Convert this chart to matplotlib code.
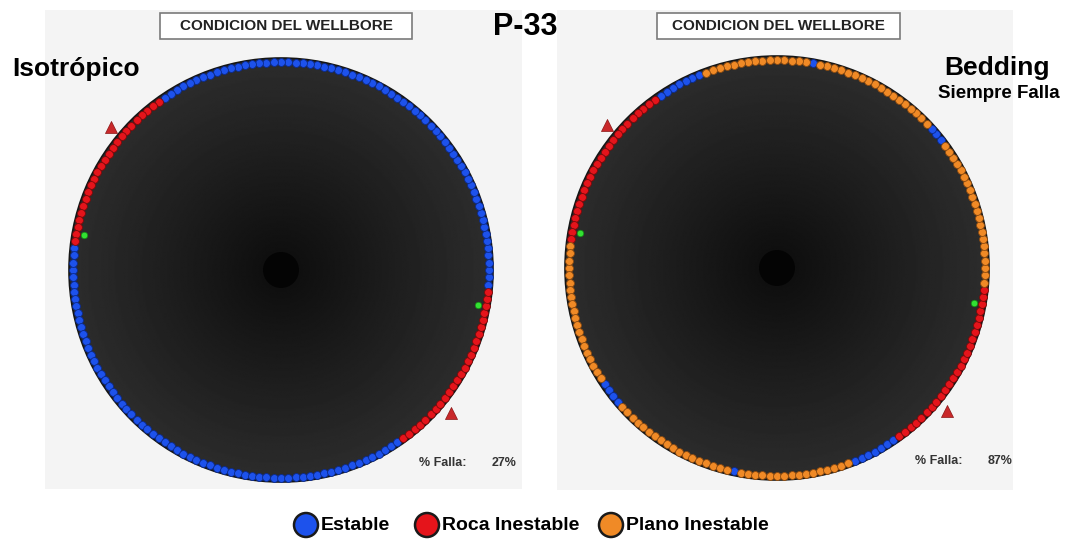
import numpy as np
import matplotlib.pyplot as plt
from matplotlib.patches import Circle, Rectangle

plt.rcParams['font.family'] = ['Liberation Sans', 'DejaVu Sans']

# one dot every 2 degrees around the wellbore wall
dot_angles = np.arange(-180, 180, 2)

# arcs (deg, counterclockwise from east) where the rock fails
iso_roca = [(-54, -4), (126, 174)]
bed_roca = [(-54, -4), (126, 174)]
# arcs that stay stable in the bedding case, the rest fails on the plane
bed_estable = [(-146, -138), (-102, -100), (-68, -54), (38, 44), (80, 82), (112, 126)]

# breakout triangles and green markers
breakout_angles = [140, -40]
marker_angles = [170, -10]

legend_labels = ['Estable', 'Roca Inestable', 'Plano Inestable']
colors = ['#1d52ec', '#e5141b', '#f08a26']
edges = ['#0b2a8a', '#7a0a0a', '#8a4a10']


def get_states(default, arcs_by_state):
    states = np.full(len(dot_angles), default)
    for state, arcs in arcs_by_state.items():
        for a, b in arcs:
            states[(dot_angles >= a) & (dot_angles < b)] = state
    return states


def draw_well(ax, cx, cy, states, R=208):
    # dark disc with radial shading
    n = 300
    g = np.linspace(-1, 1, n)
    xx, yy = np.meshgrid(g, g)
    d = np.clip(np.sqrt(xx**2 + yy**2), 0, 1)
    shade = 0.05 + 0.125 * d
    Rd = R + 4
    disc = Circle((cx, cy), Rd, transform=ax.transData)
    im = ax.imshow(shade, cmap='gray', vmin=0, vmax=1, interpolation='bilinear',
                   extent=(cx - Rd, cx + Rd, cy + Rd, cy - Rd), zorder=2)
    im.set_clip_path(disc)
    ax.add_patch(Circle((cx, cy), Rd, facecolor='none', edgecolor='#151515', lw=1.2, zorder=3))
    ax.add_patch(Circle((cx, cy), 18, facecolor='#040404', edgecolor='none', zorder=3))

    t = np.radians(dot_angles)
    px = cx + R * np.cos(t)
    py = cy - R * np.sin(t)
    for s in range(3):
        m = states == s
        ax.scatter(px[m], py[m], s=32, c=colors[s], edgecolors=edges[s], linewidths=0.6, zorder=4)

    tb = np.radians(breakout_angles)
    ax.scatter(cx + (R + 14) * np.cos(tb), cy - (R + 14) * np.sin(tb), marker='^', s=75,
               c='#c9282a', edgecolors='#8a1515', linewidths=0.5, zorder=5)
    tg = np.radians(marker_angles)
    ax.scatter(cx + (R - 8) * np.cos(tg), cy - (R - 8) * np.sin(tg), s=22,
               c='#33e033', edgecolors='#108a10', linewidths=0.5, zorder=5)

    falla = round(100 * np.sum(states != 0) / len(states))
    ax.text(cx + 138, cy + 193, '% Falla:', fontsize=9, fontweight='bold', color='#333333', va='center', zorder=5)
    ax.text(cx + 236, cy + 193, '%d%%' % falla, fontsize=9, fontweight='bold', color='#333333',
            va='center', ha='right', zorder=5)


iso_states = get_states(0, {1: iso_roca})
bed_states = get_states(2, {1: bed_roca, 0: bed_estable})

fig = plt.figure(figsize=(10.74, 5.41), dpi=100)
ax = fig.add_axes([0, 0, 1, 1])

# panel backgrounds
ax.add_patch(Rectangle((45, 10), 477, 479, facecolor='#f4f4f4', edgecolor='none', zorder=0))
ax.add_patch(Rectangle((557, 10), 456, 480, facecolor='#f4f4f4', edgecolor='none', zorder=0))

draw_well(ax, 281, 270, iso_states)
draw_well(ax, 777, 268, bed_states)

# title boxes
for bx, bw in [(160, 252), (657, 243)]:
    ax.add_patch(Rectangle((bx, 13), bw, 26, facecolor='white', edgecolor='#7a7a7a', lw=1.2, zorder=1))
    ax.text(bx + bw / 2, 26.5, 'CONDICION DEL WELLBORE', fontsize=11, fontweight='bold',
            ha='center', va='center', color='#222222')

ax.text(525, 27, 'P-33', fontsize=22, fontweight='bold', ha='center', va='center')
ax.text(12, 76, 'Isotrópico', fontsize=19, fontweight='bold', ha='left', va='baseline')
ax.text(997, 75, 'Bedding', fontsize=19, fontweight='bold', ha='center', va='baseline')
ax.text(999, 98, 'Siempre Falla', fontsize=13.5, fontweight='bold', ha='center', va='baseline')

# legend
legend_x = [306, 427, 611]
for i in range(3):
    ax.add_patch(Circle((legend_x[i], 525), 12, facecolor=colors[i], edgecolor='#1a1a1a', lw=1.8, zorder=3))
    ax.text(legend_x[i] + 15, 525, legend_labels[i], fontsize=14, fontweight='bold', ha='left', va='center')

ax.set_xlim(0, 1074)
ax.set_ylim(541, 0)
ax.set_aspect('auto')
ax.axis('off')

fig.savefig('out.png', dpi=100)
